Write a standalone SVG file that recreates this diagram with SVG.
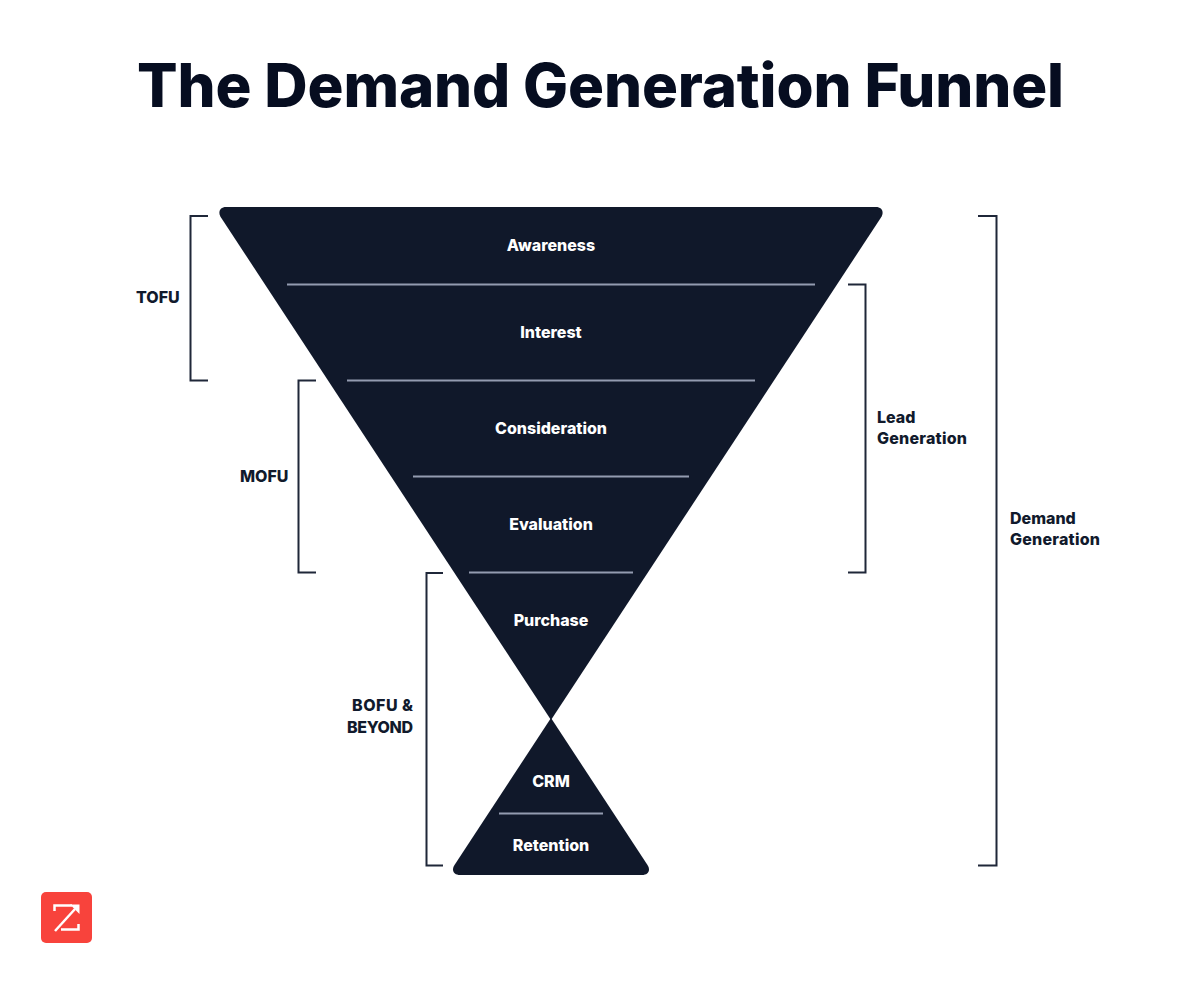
<svg xmlns="http://www.w3.org/2000/svg" width="1200" height="1000" viewBox="0 0 1200 1000">
<style>
.t{font-family:"Inter","Liberation Sans",sans-serif;font-weight:800;font-size:16px}
.w{fill:#fff;text-anchor:middle}
.d{fill:#111a2c}
.div{stroke:#939bb0;stroke-width:2;fill:none}
.br{stroke:#1f2739;stroke-width:2;fill:none}
.f{fill:#10182a}
</style>
<rect width="1200" height="1000" fill="#fff"/>
<text id="title" x="600.500" y="107" text-anchor="middle" font-family="Inter,'Liberation Sans',sans-serif" font-weight="800" font-size="60" letter-spacing="-0.15" fill="#060d20">The Demand Generation Funnel</text>
<g id="funnel"><path class="f" d="M551 720L221 217.500C217.500 212 220 207 226 207H876C882 207 884.500 212 881 217.500Z"/></g>
<g id="base"><path class="f" d="M551 718L454.500 865C451 870.500 454 875 460 875H642C648 875 651 870.500 647.500 865Z"/></g>
<g id="dividers">
<line class="div" x1="287" y1="284.500" x2="815" y2="284.500"/>
<line class="div" x1="347" y1="380.500" x2="755" y2="380.500"/>
<line class="div" x1="413" y1="476.500" x2="689" y2="476.500"/>
<line class="div" x1="469" y1="572.500" x2="633" y2="572.500"/>
<line class="div" x1="499" y1="813.500" x2="603" y2="813.500"/>
</g>
<g id="awareness"><text class="t w" x="551" y="251">Awareness</text></g>
<g id="interest"><text class="t w" x="551" y="338">Interest</text></g>
<g id="consideration"><text class="t w" x="551" y="434">Consideration</text></g>
<g id="evaluation"><text class="t w" x="551" y="530">Evaluation</text></g>
<g id="purchase"><text class="t w" x="551" y="626">Purchase</text></g>
<g id="crm"><text class="t w" x="551" y="787">CRM</text></g>
<g id="retention"><text class="t w" x="551" y="851">Retention</text></g>
<g id="connectors">
<path class="br" d="M208 216H190.500V380.500H208"/>
<path class="br" d="M316 380.500H298.500V572.500H316"/>
<path class="br" d="M443 573H426.500V865.500H443"/>
<path class="br" d="M848 284.500H865.500V572.500H848"/>
<path class="br" d="M978 216H996.500V865.500H978"/>
</g>
<g id="tofu"><text class="t d" x="136" y="303">TOFU</text></g>
<g id="mofu"><text class="t d" x="240" y="482">MOFU</text></g>
<g id="bofu"><text class="t d" text-anchor="end" x="413" y="711" textLength="61">BOFU &amp;</text><text class="t d" text-anchor="end" x="413" y="733" textLength="66">BEYOND</text></g>
<g id="lead"><text class="t d" x="877" y="423">Lead</text><text class="t d" x="877" y="444" textLength="90">Generation</text></g>
<g id="demand"><text class="t d" x="1010" y="524">Demand</text><text class="t d" x="1010" y="545" textLength="90">Generation</text></g>
<g id="logo">
<rect x="41" y="892" width="51" height="51" rx="5" fill="#f8433c"/>
<path d="M54.500 911V905.500H72M78.500 924V929.500H61" fill="none" stroke="#fff" stroke-width="2.500"/>
<path d="M55 931L75 909" stroke="#fff" stroke-width="2.500" fill="none"/>
<path d="M70 904.500H79.500V914Z" fill="#fff"/>
</g>
</svg>
